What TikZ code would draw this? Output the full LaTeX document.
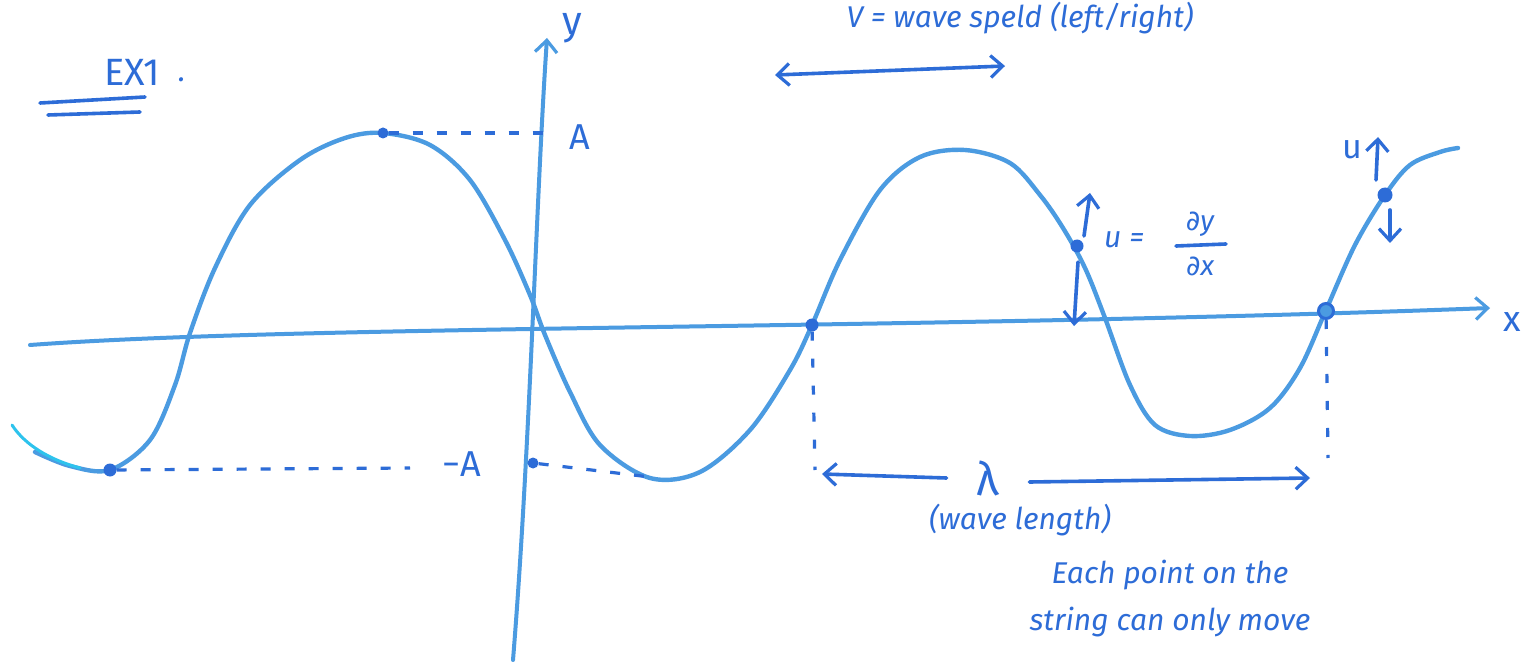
\documentclass[tikz,border=0pt]{standalone}
\usepackage{fontspec}
\setmainfont{Fira Sans}
\newfontfamily\dvsans{DejaVu Sans}
\usetikzlibrary{arrows.meta}
\definecolor{wave}{RGB}{75,155,225}
\definecolor{ink}{RGB}{45,108,215}
\tikzset{
  curveline/.style={wave, line width=4.4pt, line cap=round, line join=round},
  axisline/.style={wave, line width=4pt, line cap=round},
  guide/.style={ink, line width=3.2pt, dash pattern=on 10pt off 14pt},
  dotguide/.style={ink, line width=3.2pt, dash pattern=on 9pt off 18pt},
  barb/.style={-{Straight Barb[length=12pt,width=22pt,line width=3.2pt]}},
  barbs/.style={{Straight Barb[length=12pt,width=22pt,line width=3.2pt]}-{Straight Barb[length=12pt,width=22pt,line width=3.2pt]}},
  inkline/.style={ink, line width=3.6pt, line cap=round},
  lbl/.style={ink, inner sep=0pt, font=\fontsize{30}{34}\selectfont\itshape},
  dotpt/.style={circle, fill=ink, inner sep=0pt, minimum size=13pt}
}
\begin{document}
\begin{tikzpicture}[x=1pt,y=-1pt]
\useasboundingbox (0,0) rectangle (1531,668);
\fill[white] (0,0) rectangle (1531,668);

% title
\node[lbl, font=\fontsize{38}{42}\selectfont] (ex) at (132,72) {EX1};
\node[lbl] (period) at (182,80) {.};
\draw[inkline] (40,103) -- (145,97);
\draw[inkline] (48,115) -- (140,112);

% axes
\coordinate (xs) at (30,345);
\coordinate (xe) at (1490,308);
\draw[axisline, barb] (xs) .. controls (300,325) and (900,330) .. (xe);
\node[lbl, font=\fontsize{36}{40}\selectfont] (xl) at (1512,322) {x};
\coordinate (ys) at (513,660);
\coordinate (ye) at (547,38);
\draw[axisline, barb] (ys) .. controls (530,450) and (536,200) .. (ye);
\node[lbl, font=\fontsize{40}{44}\selectfont] (yl) at (572,28) {y};

% wave
\draw[curveline] plot[smooth, tension=0.55] coordinates {
 (35,452) (70,466) (110,470) (150,440) (175,385) (190,333) (215,268) (250,205)
 (300,160) (345,138) (383,133) (430,145) (470,180) (505,240) (530,295) (545,335)
 (570,392) (600,445) (650,478) (700,472) (750,430) (790,370) (812,325) (840,260)
 (880,190) (920,157) (965,150) (1010,163) (1040,195) (1063,228) (1085,268)
 (1105,318) (1130,385) (1155,425) (1190,436) (1230,430) (1270,408) (1300,368)
 (1326,310) (1355,245) (1385,195) (1410,165) (1440,152) (1458,148)};
\draw[wave!60!cyan, line width=3pt, line cap=round] (12,425) .. controls (25,445) and (50,460) .. (80,468);

% amplitude guides
\node[dotpt, minimum size=11pt] (pk) at (383,133) {};
\coordinate (pkax) at (545,133);
\draw[guide] (pk) -- (pkax);
\node[lbl, font=\fontsize{36}{40}\selectfont] (al) at (580,137) {A};

\node[dotpt] (tr) at (110,470) {};
\node[lbl, font=\fontsize{36}{40}\selectfont] (mal) at (462,464) {−A};
\node[dotpt, minimum size=11pt] (ya) at (533,463) {};
\coordinate (trend) at (410,468);
\draw[guide] (tr) -- (trend);
\coordinate (tr2) at (650,477);
\draw[guide] (ya) -- (tr2);

% wave speed
\node[lbl] (vlabel) at (1020,18) {V = wave speld (left/right)};
\coordinate (vl) at (775,75);
\coordinate (vr) at (1005,66);
\draw[inkline, barbs] (vl) -- (vr);

% point on descending slope
\node[dotpt] (p1) at (1077,246) {};
\coordinate (p1u) at (1090,193);
\coordinate (p1us) at (1084,236);
\draw[inkline, barb] (p1us) -- (p1u);
\coordinate (p1ds) at (1078,262);
\coordinate (p1d) at (1074,326);
\draw[inkline, barb] (p1ds) -- (p1d);
\node[lbl, anchor=west] (ul) at (1104,240) {u =};
\node[lbl, font=\fontsize{28}{30}\selectfont\itshape] (fy) at (1200,224) {{\dvsans\upshape ∂}y};
\node[lbl, font=\fontsize{28}{30}\selectfont\itshape] (fx) at (1200,266) {{\dvsans\upshape ∂}x};
\coordinate (fl) at (1176,246);
\coordinate (fr) at (1226,244);
\draw[inkline] (fl) -- (fr);

% point on rising slope at right
\node[dotpt, minimum size=15pt] (p2) at (1385,195) {};
\node[lbl, font=\fontsize{34}{38}\selectfont] (u2) at (1352,150) {u};
\coordinate (p2us) at (1376,180);
\coordinate (p2u) at (1378,137);
\draw[inkline, barb] (p2us) -- (p2u);
\coordinate (p2ds) at (1390,210);
\coordinate (p2d) at (1390,243);
\draw[inkline, barb] (p2ds) -- (p2d);

% wavelength
\node[dotpt] (z1) at (812,325) {};
\node[draw=ink, circle, fill=wave, line width=3pt, inner sep=0pt, minimum size=15pt] (z2) at (1326,311) {};
\coordinate (z1b) at (815,470);
\coordinate (z2b) at (1328,458);
\draw[dotguide] (z1) -- (z1b);
\draw[dotguide] (z2) -- (z2b);
\node[lbl, font=\fontsize{46}{50}\selectfont] (lam) at (988,478) {λ};
\coordinate (la) at (822,474);
\coordinate (lb) at (1310,478);
\draw[inkline, barb] (lam.west) ++(-30,0) -- (la);
\draw[inkline, barb] (lam.east) ++(30,4) -- (lb);
\node[lbl] (wl) at (1020,520) {(wave length)};

% note
\node[lbl] (note1) at (1170,575) {Each point on the};
\node[lbl] (note2) at (1170,622) {string can only move};
\end{tikzpicture}
\end{document}
